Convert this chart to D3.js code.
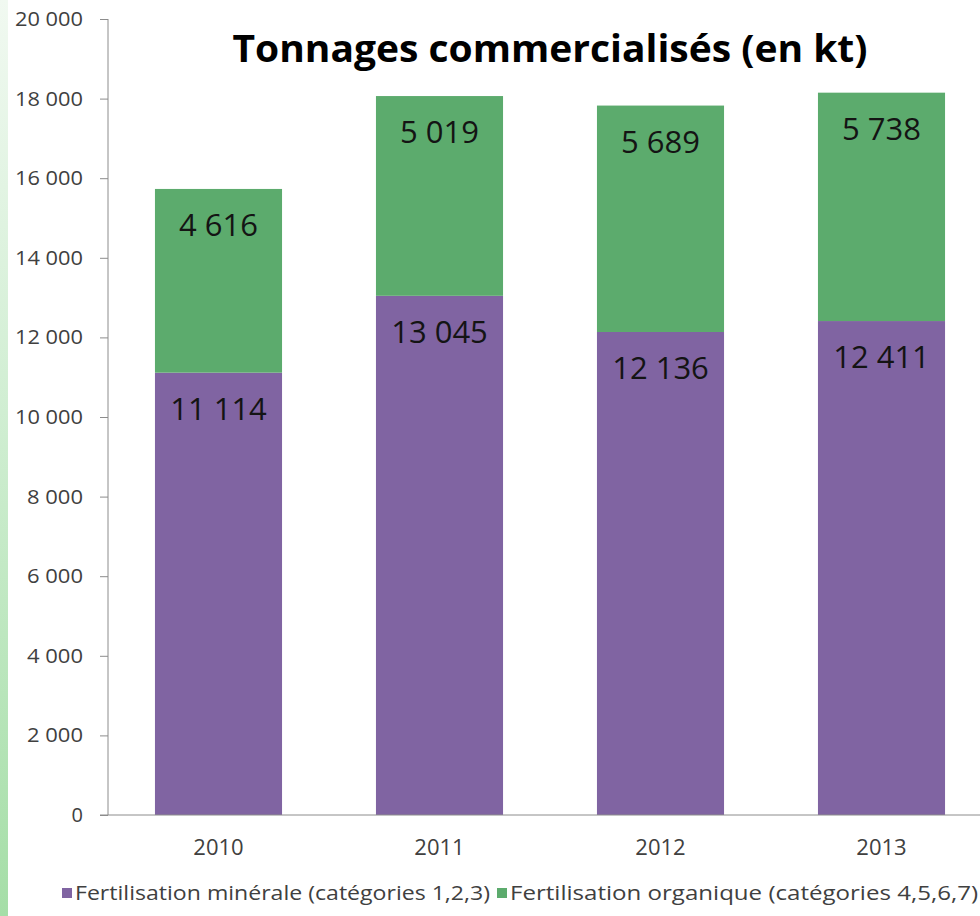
<!DOCTYPE html>
<html>
<head>
<meta charset="utf-8">
<script src="https://cdn.jsdelivr.net/npm/d3@7"></script>
<style>
  html, body { margin: 0; padding: 0; background: #fff; }
  svg { display: block; }
</style>
</head>
<body>
<svg id="chart" width="980" height="916"></svg>
<script>
// Tonnages commercialisés, en kilotonnes
const years = ["2010", "2011", "2012", "2013"];
const minerale = [11114, 13045, 12136, 12411];
const organique = [4616, 5019, 5689, 5738];
const seriesNames = [
  "Fertilisation minérale (catégories 1,2,3)",
  "Fertilisation organique (catégories 4,5,6,7)"
];
const seriesColors = ["#8064a2", "#5cab6d"];
const yTicks = [0, 2000, 4000, 6000, 8000, 10000, 12000, 14000, 16000, 18000, 20000];
const title = "Tonnages commercialisés (en kt)";

const W = 980, H = 916;
const svg = d3.select("#chart");
const fr = d3.formatLocale({ decimal: ",", thousands: "\u00a0", grouping: [3], currency: ["", " €"] });
const fmt = fr.format(",d");

// left edge accent strip
const defs = svg.append("defs");
const grad = defs.append("linearGradient").attr("id", "strip").attr("x1", 0).attr("y1", 0).attr("x2", 0).attr("y2", 1);
grad.append("stop").attr("offset", "0%").attr("stop-color", "#f1f9f1");
grad.append("stop").attr("offset", "45%").attr("stop-color", "#d0eed2");
grad.append("stop").attr("offset", "100%").attr("stop-color", "#a5dea7");
svg.append("rect").attr("x", 0).attr("y", 0).attr("width", 8).attr("height", H).attr("fill", "url(#strip)");

const x = d3.scaleBand().domain(years).range([108, 992]).paddingInner(0.425).paddingOuter(0.2125);
const y = d3.scaleLinear().domain([0, 20000]).range([815, 19]);

// stacked series
const rows = years.map((yr, i) => ({ year: yr, minerale: minerale[i], organique: organique[i] }));
const stack = d3.stack().keys(["minerale", "organique"]);
const layers = stack(rows);

const g = svg.append("g");
layers.forEach((layer, li) => {
  g.append("g").selectAll("rect").data(layer).join("rect")
    .attr("x", d => x(d.data.year))
    .attr("width", x.bandwidth())
    .attr("y", d => y(d[1]))
    .attr("height", d => y(d[0]) - y(d[1]))
    .attr("fill", seriesColors[li]);
});

// y axis
const yAxis = d3.axisLeft(y).tickValues(yTicks).tickSize(8).tickPadding(17)
  .tickFormat(d => fmt(d));
const ya = svg.append("g").attr("transform", "translate(108,0)").call(yAxis);
ya.select(".domain").attr("stroke", "#8c8c8c").attr("d", "M0,19V815");
ya.selectAll(".tick line").attr("stroke", "#8c8c8c");
ya.selectAll(".tick text").attr("fill", "#404040").style("font-family", "'Open Sans', sans-serif").style("font-size", "20px")
  .attr("textLength", 68).attr("lengthAdjust", "spacingAndGlyphs")
  .each(function (d) { if (d < 10000) d3.select(this).attr("textLength", d === 0 ? null : 56); });

// x axis
const xAxis = d3.axisBottom(x).tickSize(0).tickPadding(24);
const xa = svg.append("g").attr("transform", "translate(0,815)").call(xAxis);
xa.select(".domain").attr("stroke", "#8c8c8c").attr("d", "M100,0H980");
xa.selectAll(".tick text").attr("fill", "#404040").style("font-family", "'Open Sans', sans-serif").style("font-size", "22px");

// data labels inside each segment
layers.forEach((layer) => {
  g.append("g").selectAll("text").data(layer).join("text")
    .attr("x", d => x(d.data.year) + x.bandwidth() / 2)
    .attr("y", d => y(d[1]) + 47)
    .attr("text-anchor", "middle")
    .attr("fill", "#141414")
    .style("font-family", "'Open Sans', sans-serif")
    .style("font-size", "31px")
    .text(d => fmt(d[1] - d[0]));
});

// title
svg.append("text")
  .attr("x", 550).attr("y", 62)
  .attr("text-anchor", "middle")
  .attr("textLength", 635).attr("lengthAdjust", "spacingAndGlyphs")
  .attr("fill", "#000")
  .style("font-family", "'Open Sans', sans-serif")
  .style("font-weight", "bold")
  .style("font-size", "37px")
  .text(title);

// legend
const legendItems = [
  { x: 62, tx: 75, len: 415 },
  { x: 497, tx: 510, len: 468 }
];
legendItems.forEach((it, i) => {
  svg.append("rect").attr("x", it.x).attr("y", 888).attr("width", 10).attr("height", 10).attr("fill", seriesColors[i]);
  svg.append("text")
    .attr("x", it.tx).attr("y", 900)
    .attr("textLength", it.len).attr("lengthAdjust", "spacingAndGlyphs")
    .attr("fill", "#404040")
    .style("font-family", "'Open Sans', sans-serif")
    .style("font-size", "20px")
    .text(seriesNames[i]);
});
</script>
</body>
</html>
